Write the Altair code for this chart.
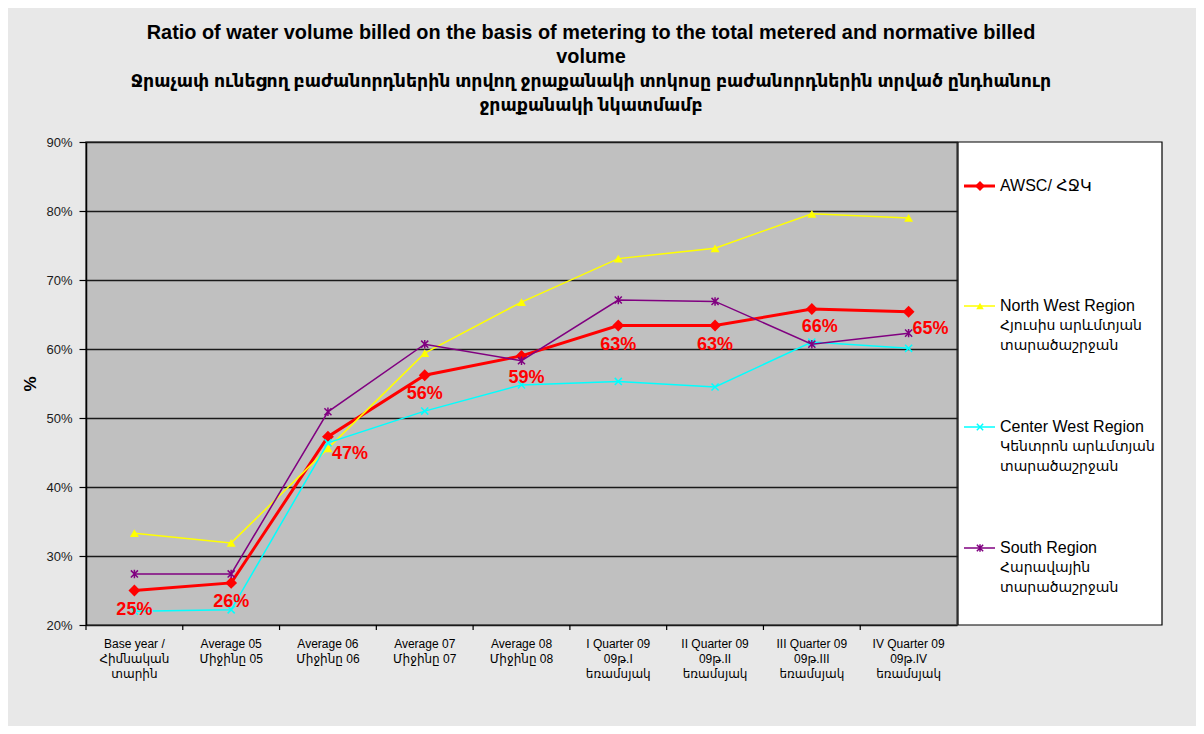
import altair as alt
import pandas as pd

# ---------------- data ----------------
categories = [
    "Base year /|Հիմնական|տարին",
    "Average 05|Միջինը 05",
    "Average 06|Միջինը 06",
    "Average 07|Միջինը 07",
    "Average 08|Միջինը 08",
    "I Quarter 09|09թ.I|եռամսյակ",
    "II Quarter 09|09թ.II|եռամսյակ",
    "III Quarter 09|09թ.III|եռամսյակ",
    "IV Quarter 09|09թ.IV|եռամսյակ",
]
awsc = [25.0, 26.1, 47.3, 56.2, 59.0, 63.4, 63.4, 65.8, 65.4]
north_west = [33.3, 31.9, 45.6, 59.4, 66.8, 73.1, 74.6, 79.6, 79.0]
center_west = [22.0, 22.2, 46.4, 51.0, 54.8, 55.3, 54.5, 61.0, 60.1]
south = [27.4, 27.4, 50.9, 60.7, 58.3, 67.1, 66.9, 60.7, 62.3]

series_names = ["AWSC/ ՀՋԿ", "North West Region", "Center West Region", "South Region"]
legend_english = ["AWSC/ ՀՋԿ", "North West Region", "Center West Region", "South Region"]
legend_armenian = [
    "",
    "Հյուսիս արևմտյան\nտարածաշրջան",
    "Կենտրոն արևմտյան\nտարածաշրջան",
    "Հարավային\nտարածաշրջան",
]
title_lines = [
    "Ratio of water volume billed on the basis of metering to the total metered and normative billed",
    "volume",
    "Ջրաչափ ունեցող բաժանորդներին տրվող ջրաքանակի տոկոսը բաժանորդներին տրված ընդհանուր",
    "ջրաքանակի նկատմամբ",
]
y_ticks = [20, 30, 40, 50, 60, 70, 80, 90]

# ---------------- styling ----------------
W, H = 871, 483
FONT = "Liberation Sans, Arial, DejaVu Sans"
X_SHAPE = "M-1,-1L1,1M-1,1L1,-1"
STAR_SHAPE = "M-1,-1L1,1M-1,1L1,-1M0,-1.2L0,1.2"
styles = [
    dict(color="#FF0000", width=3, shape="diamond", size=140, filled=True),
    dict(color="#FFFF00", width=1.5, shape="triangle-up", size=80, filled=True),
    dict(color="#00FFFF", width=1.5, shape=X_SHAPE, size=50, filled=False),
    dict(color="#800080", width=1.5, shape=STAR_SHAPE, size=50, filled=False),
]

rows = []
for name, vals in zip(series_names, [awsc, north_west, center_west, south]):
    for i, (c, v) in enumerate(zip(categories, vals)):
        rows.append({"series": name, "cat": c, "idx": i, "value": v})
df = pd.DataFrame(rows)

x_axis = alt.Axis(
    title=None, labelExpr="split(datum.label, '|')", labelAngle=0, ticks=False,
    domain=False, labelFontSize=12, labelLineHeight=15, labelPadding=13,
    labelColor="#000000", labelFont=FONT, labelBaseline="top", labelLimit=200,
)
x_scale = alt.Scale(paddingInner=0, paddingOuter=0)
y_axis = alt.Axis(
    values=y_ticks, labelExpr="datum.value + '%'", title="%", grid=True,
    gridColor="#1a1a1a", gridWidth=1.5, domainColor="#000000", domainWidth=1.5,
    tickColor="#000000", tickSize=7, tickWidth=1.2, labelPadding=7,
    labelFontSize=13, labelFont=FONT, labelColor="#1a1a1a",
    titleFont=FONT, titleFontSize=17, titleFontWeight="bold", titleColor="#000000",
    titleAngle=-90, titleX=-56, titleY=H / 2, titleAlign="center", titleBaseline="middle",
)
x_enc = alt.X("cat:N", sort=categories, scale=x_scale, axis=x_axis)
y_enc = alt.Y("value:Q", scale=alt.Scale(domain=[20, 90], nice=False, zero=False), axis=y_axis)

layers = []

# tick marks at category boundaries
layers.append(
    alt.Chart(df[df.series == series_names[0]]).mark_rule(color="#000000", strokeWidth=1.2).encode(
        x=alt.X("cat:N", sort=categories, scale=x_scale, axis=x_axis, bandPosition=0),
        y=alt.value(H), y2=alt.value(H + 5),
    )
)

# series lines + markers
for name, st in zip(series_names, styles):
    sub = df[df.series == name]
    base = alt.Chart(sub).encode(x=x_enc, y=y_enc)
    layers.append(base.mark_line(color=st["color"], strokeWidth=st["width"]))
    if st["filled"]:
        layers.append(base.mark_point(shape=st["shape"], size=st["size"], filled=True,
                                      color=st["color"], opacity=1))
    else:
        layers.append(base.mark_point(shape=st["shape"], size=st["size"], filled=False,
                                      color=st["color"], strokeWidth=1.5, opacity=1))

# data labels for AWSC
lab = alt.Chart(df[df.series == series_names[0]]).transform_calculate(
    label="format(datum.value, '.0f') + '%'"
).encode(x=x_enc, y=y_enc, text="label:N")
lab_style = dict(color="#FF0000", fontSize=18, fontWeight="bold", font=FONT, baseline="middle")
layers.append(lab.transform_filter("datum.idx != 2 && datum.idx != 8 && datum.idx != 7 && datum.idx != 4")
              .mark_text(dy=19, **lab_style))
layers.append(lab.transform_filter("datum.idx == 4").mark_text(dy=22, dx=5, **lab_style))
layers.append(lab.transform_filter("datum.idx == 7").mark_text(dy=18, dx=8, **lab_style))
layers.append(lab.transform_filter("datum.idx == 2 || datum.idx == 8").mark_text(dy=17, dx=22, **lab_style))

# legend box
one = pd.DataFrame({"a": [0]})
layers.append(
    alt.Chart(one).mark_rect(fill="#FFFFFF", stroke="#000000", strokeWidth=1.2).encode(
        x=alt.value(W + 1), x2=alt.value(W + 205), y=alt.value(0), y2=alt.value(H)
    )
)
legend_first = [44, 164, 285, 406]
for st, eng, arm, yf in zip(styles, legend_english, legend_armenian, legend_first):
    layers.append(
        alt.Chart(one).mark_rule(color=st["color"], strokeWidth=st["width"]).encode(
            x=alt.value(W + 7), x2=alt.value(W + 38), y=alt.value(yf)
        )
    )
    if st["filled"]:
        mk = alt.Chart(one).mark_point(shape=st["shape"], size=st["size"] * 0.7, filled=True,
                                       color=st["color"], opacity=1)
    else:
        mk = alt.Chart(one).mark_point(shape=st["shape"], size=st["size"] * 0.8, filled=False,
                                       color=st["color"], strokeWidth=1.5, opacity=1)
    layers.append(mk.encode(x=alt.value(W + 23), y=alt.value(yf)))
    layers.append(
        alt.Chart(one).mark_text(align="left", baseline="middle", fontSize=16, font=FONT,
                                 color="#000000").encode(
            x=alt.value(W + 43), y=alt.value(yf), text=alt.value(eng)
        )
    )
    if arm:
        layers.append(
            alt.Chart(one).mark_text(align="left", baseline="middle", fontSize=14, font=FONT,
                                     color="#000000", lineBreak="\n", lineHeight=20).encode(
                x=alt.value(W + 43), y=alt.value(yf + 20), text=alt.value(arm)
            )
        )

# title
title_y = [-109, -85, -60, -36]
title_size = [19.9, 19.9, 17.3, 17.3]
for t, ty, fs in zip(title_lines, title_y, title_size):
    layers.append(
        alt.Chart(one).mark_text(align="center", baseline="middle", fontSize=fs,
                                 fontWeight="bold", font=FONT, color="#000000").encode(
            x=alt.value(505), y=alt.value(ty), text=alt.value(t)
        )
    )

chart = alt.layer(*layers).properties(
    width=W, height=H,
    autosize=alt.AutoSizeParams(type="none"),
    padding={"left": 78, "top": 134, "right": 1188 - 78 - W, "bottom": 718 - 134 - H},
).configure(background="#e8e8e8").configure_view(
    fill="#c0c0c0", stroke="#4d4d4d", strokeWidth=1.5
)

chart.save("out.html", embed_options={"renderer": "svg", "actions": False})
